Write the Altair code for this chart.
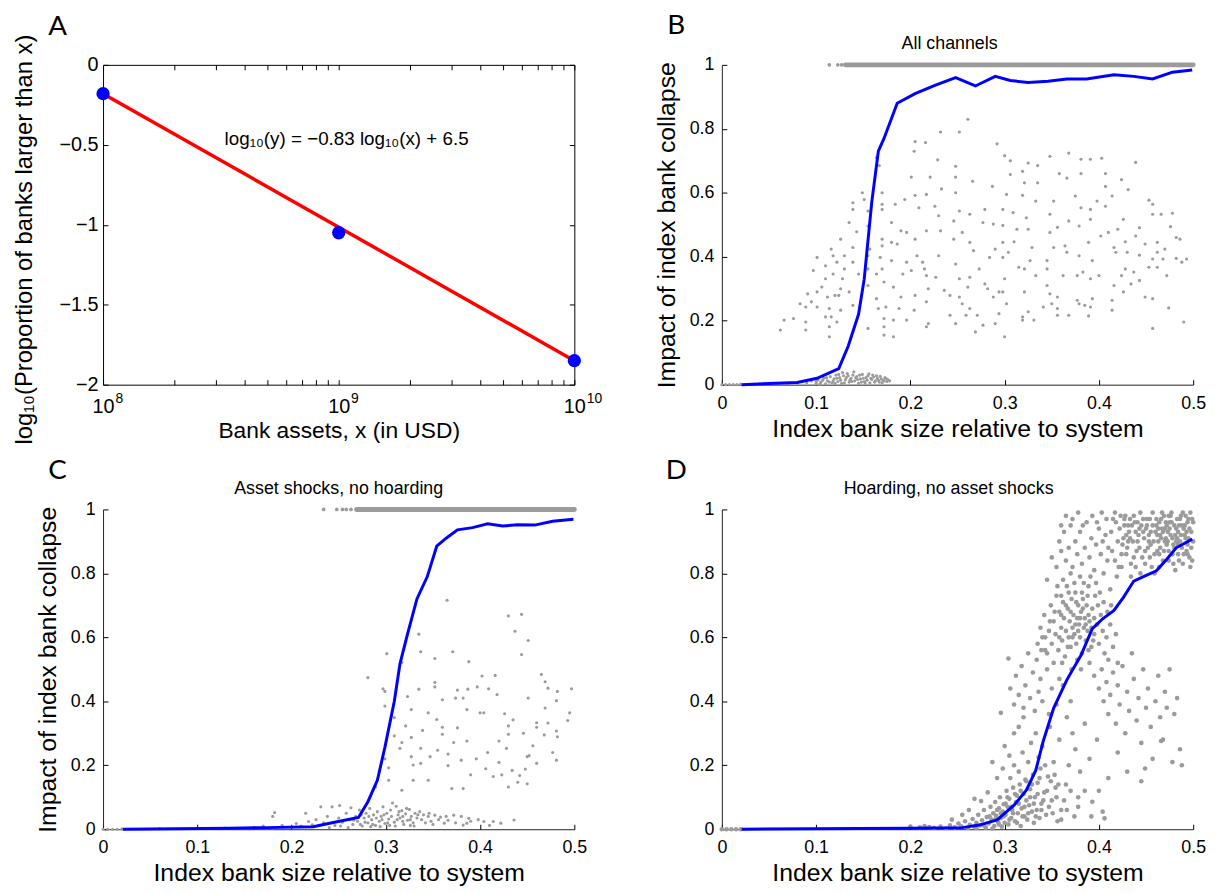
import altair as alt
import pandas as pd

FONT = "Liberation Sans"
LETTER_FONT = "Lato"
GRAY = "#9b9b9b"
BLUE = "#0000ff"
RED = "#ff0000"
W = 476
H = 323

# ---------------- Panel A data ----------------
a_assets = [1e8, 1e9, 1e10]
a_log_prop = [-0.18, -1.05, -1.85]
a_fit_assets = [1e8, 1e10]
a_fit_log_prop = [-0.18, -1.85]
a_major_ticks = [1e8, 1e9, 1e10]
a_tick_base = "10"
a_tick_exp = ["8", "9", "10"]
a_minor_ticks = [1e8, 2e8, 3e8, 4e8, 5e8, 6e8, 7e8, 8e8, 9e8,
                 1e9, 2e9, 3e9, 4e9, 5e9, 6e9, 7e9, 8e9, 9e9, 1e10]
a_y_ticks = [0, -0.5, -1, -1.5, -2]
a_equation = "log₁₀(y) = −0.83 log₁₀(x) + 6.5"

# ---------------- Panels B-D shared ----------------
size_ticks = [0, 0.1, 0.2, 0.3, 0.4, 0.5]
impact_ticks = [0, 0.2, 0.4, 0.6, 0.8, 1]
X_TITLE = "Index bank size relative to system"
Y_TITLE = "Impact of index bank collapse"

# ---------------- Panel B data ----------------
b_line_x = [0.021, 0.08, 0.101, 0.124, 0.134, 0.145, 0.151, 0.159, 0.166, 0.172, 0.186, 0.205, 0.226,
            0.248, 0.269, 0.29, 0.306, 0.325, 0.346, 0.366, 0.387, 0.416, 0.437, 0.457, 0.478, 0.499]
b_line_y = [0.0, 0.007, 0.02, 0.05, 0.12, 0.22, 0.33, 0.57, 0.73, 0.77, 0.88, 0.91, 0.936,
            0.96, 0.934, 0.964, 0.951, 0.945, 0.949, 0.956, 0.956, 0.969, 0.964, 0.956, 0.977, 0.984]
b_band_start = [0.131]
b_band_end = [0.5]
b_band_y = [1.0]
b_top_dots = [(0.114, 1.0), (0.123, 1.0), (0.127, 1.0)]
b_zero_cloud = [
    (0.0, 0.0), (0.004, 0.0), (0.008, 0.0), (0.012, 0.0), (0.016, 0.0), (0.02, 0.002), (0.04, 0.002),
    (0.06, 0.003), (0.07, 0.004), (0.08, 0.004), (0.09, 0.006), (0.095, 0.012), (0.1, 0.004),
    (0.102, 0.015), (0.105, 0.008), (0.108, 0.02), (0.11, 0.003), (0.112, 0.012), (0.115, 0.025),
    (0.117, 0.006), (0.119, 0.018), (0.121, 0.03), (0.123, 0.01), (0.125, 0.022), (0.127, 0.004),
    (0.129, 0.028), (0.131, 0.015), (0.133, 0.035), (0.135, 0.008), (0.137, 0.02), (0.139, 0.03),
    (0.141, 0.012), (0.143, 0.025), (0.145, 0.004), (0.147, 0.018), (0.149, 0.032), (0.151, 0.01),
    (0.153, 0.022), (0.155, 0.028), (0.157, 0.006), (0.159, 0.016), (0.161, 0.024), (0.163, 0.012),
    (0.165, 0.02), (0.167, 0.008), (0.169, 0.018), (0.171, 0.014), (0.173, 0.022), (0.175, 0.01),
    (0.14, 0.04), (0.128, 0.038), (0.136, 0.014), (0.144, 0.016), (0.152, 0.005), (0.16, 0.03),
    (0.1, 0.01), (0.104, 0.002), (0.107, 0.014), (0.111, 0.022), (0.114, 0.008), (0.118, 0.012),
    (0.12, 0.004), (0.122, 0.02), (0.124, 0.032), (0.126, 0.014), (0.13, 0.006), (0.132, 0.022),
    (0.134, 0.028), (0.138, 0.01), (0.142, 0.022), (0.146, 0.03), (0.148, 0.008), (0.15, 0.02),
    (0.154, 0.014), (0.156, 0.034), (0.158, 0.02), (0.162, 0.008), (0.164, 0.028), (0.166, 0.014),
    (0.168, 0.026), (0.17, 0.006), (0.172, 0.012), (0.174, 0.02), (0.176, 0.016), (0.178, 0.012),
]
b_scatter = [
    (0.261, 0.83), (0.232, 0.79), (0.252, 0.79), (0.204, 0.73), (0.205, 0.76), (0.216, 0.757),
    (0.292, 0.753), (0.30, 0.716), (0.368, 0.724), (0.348, 0.714), (0.381, 0.705), (0.391, 0.705),
    (0.403, 0.708), (0.439, 0.695), (0.229, 0.703), (0.306, 0.70), (0.325, 0.693), (0.335, 0.685),
    (0.248, 0.683), (0.164, 0.71), (0.167, 0.685), (0.358, 0.66), (0.381, 0.66), (0.407, 0.66),
    (0.319, 0.667), (0.306, 0.657), (0.201, 0.649), (0.221, 0.649), (0.248, 0.649), (0.366, 0.646),
    (0.424, 0.641), (0.266, 0.636), (0.335, 0.631), (0.321, 0.631), (0.407, 0.62), (0.431, 0.61),
    (0.287, 0.62), (0.233, 0.612), (0.248, 0.60), (0.217, 0.595), (0.205, 0.592), (0.194, 0.579),
    (0.302, 0.595), (0.319, 0.592), (0.375, 0.59), (0.414, 0.59), (0.453, 0.577), (0.457, 0.564),
    (0.149, 0.60), (0.151, 0.579), (0.139, 0.569), (0.17, 0.60), (0.17, 0.564), (0.184, 0.564),
    (0.333, 0.574), (0.352, 0.574), (0.398, 0.574), (0.407, 0.558), (0.209, 0.553), (0.226, 0.558),
    (0.279, 0.548), (0.298, 0.548), (0.381, 0.553), (0.391, 0.548), (0.466, 0.533), (0.478, 0.536),
    (0.139, 0.548), (0.155, 0.543), (0.17, 0.548), (0.252, 0.543), (0.263, 0.533), (0.309, 0.538),
    (0.348, 0.533), (0.23, 0.528), (0.323, 0.522), (0.426, 0.517), (0.457, 0.533), (0.368, 0.512),
    (0.391, 0.517), (0.246, 0.512), (0.277, 0.507), (0.288, 0.502), (0.298, 0.498), (0.135, 0.507),
    (0.143, 0.478), (0.18, 0.507), (0.155, 0.496), (0.356, 0.492), (0.379, 0.496), (0.42, 0.486),
    (0.443, 0.491), (0.476, 0.494), (0.19, 0.481), (0.196, 0.476), (0.217, 0.481), (0.232, 0.481),
    (0.255, 0.476), (0.313, 0.486), (0.325, 0.486), (0.348, 0.476), (0.41, 0.476), (0.402, 0.465),
    (0.439, 0.465), (0.482, 0.46), (0.486, 0.455), (0.126, 0.455), (0.17, 0.455), (0.205, 0.455),
    (0.246, 0.455), (0.263, 0.445), (0.298, 0.445), (0.31, 0.447), (0.389, 0.445), (0.449, 0.44),
    (0.462, 0.445), (0.428, 0.447), (0.17, 0.434), (0.18, 0.445), (0.186, 0.44), (0.352, 0.429),
    (0.364, 0.434), (0.416, 0.429), (0.47, 0.424), (0.116, 0.424), (0.139, 0.429), (0.157, 0.424),
    (0.29, 0.424), (0.329, 0.429), (0.267, 0.419), (0.304, 0.414), (0.366, 0.414), (0.418, 0.414),
    (0.43, 0.414), (0.462, 0.414), (0.443, 0.405), (0.118, 0.403), (0.13, 0.403), (0.155, 0.403),
    (0.168, 0.398), (0.207, 0.403), (0.23, 0.403), (0.284, 0.398), (0.298, 0.398), (0.379, 0.403),
    (0.393, 0.388), (0.482, 0.395), (0.493, 0.393), (0.345, 0.388), (0.327, 0.388), (0.457, 0.393),
    (0.468, 0.393), (0.101, 0.398), (0.122, 0.383), (0.139, 0.383), (0.18, 0.388), (0.196, 0.383),
    (0.213, 0.383), (0.248, 0.377), (0.315, 0.367), (0.321, 0.362), (0.428, 0.362), (0.453, 0.367),
    (0.462, 0.367), (0.488, 0.383), (0.11, 0.372), (0.13, 0.362), (0.155, 0.362), (0.17, 0.362),
    (0.201, 0.357), (0.215, 0.362), (0.273, 0.362), (0.345, 0.362), (0.383, 0.352), (0.437, 0.352),
    (0.097, 0.357), (0.118, 0.346), (0.145, 0.346), (0.164, 0.346), (0.192, 0.346), (0.217, 0.341),
    (0.333, 0.341), (0.362, 0.341), (0.377, 0.341), (0.40, 0.341), (0.424, 0.341), (0.443, 0.326),
    (0.472, 0.341), (0.11, 0.331), (0.128, 0.331), (0.227, 0.336), (0.252, 0.331), (0.263, 0.336),
    (0.30, 0.331), (0.391, 0.331), (0.279, 0.315), (0.155, 0.31), (0.172, 0.321), (0.106, 0.305),
    (0.126, 0.30), (0.182, 0.305), (0.219, 0.30), (0.416, 0.31), (0.434, 0.315), (0.345, 0.31),
    (0.261, 0.305), (0.282, 0.30), (0.101, 0.29), (0.12, 0.279), (0.135, 0.29), (0.236, 0.295),
    (0.294, 0.29), (0.298, 0.29), (0.321, 0.29), (0.348, 0.284), (0.426, 0.29), (0.091, 0.284),
    (0.083, 0.253), (0.095, 0.259), (0.112, 0.274), (0.124, 0.279), (0.242, 0.279), (0.252, 0.274),
    (0.288, 0.274), (0.356, 0.274), (0.393, 0.269), (0.164, 0.269), (0.19, 0.274), (0.205, 0.279),
    (0.101, 0.243), (0.089, 0.243), (0.139, 0.248), (0.174, 0.243), (0.217, 0.259), (0.255, 0.253),
    (0.302, 0.253), (0.377, 0.264), (0.379, 0.253), (0.35, 0.253), (0.414, 0.264), (0.449, 0.274),
    (0.457, 0.269), (0.114, 0.238), (0.126, 0.233), (0.166, 0.238), (0.188, 0.238), (0.263, 0.238),
    (0.356, 0.238), (0.341, 0.243), (0.391, 0.243), (0.414, 0.233), (0.474, 0.24), (0.385, 0.248),
    (0.204, 0.233), (0.325, 0.228), (0.294, 0.222), (0.259, 0.217), (0.242, 0.217), (0.271, 0.217),
    (0.356, 0.217), (0.368, 0.217), (0.389, 0.215), (0.319, 0.212), (0.116, 0.212), (0.11, 0.212),
    (0.172, 0.207), (0.182, 0.202), (0.196, 0.202), (0.066, 0.202), (0.076, 0.207), (0.089, 0.196),
    (0.122, 0.196), (0.319, 0.202), (0.331, 0.202), (0.219, 0.191), (0.248, 0.191), (0.29, 0.191),
    (0.49, 0.196), (0.062, 0.171), (0.089, 0.171), (0.114, 0.181), (0.155, 0.176), (0.172, 0.181),
    (0.217, 0.181), (0.277, 0.186), (0.457, 0.176), (0.269, 0.165), (0.114, 0.15), (0.172, 0.155),
    (0.182, 0.15), (0.30, 0.15),
]

# ---------------- Panel C data ----------------
c_line_x = [0.021, 0.134, 0.174, 0.223, 0.243, 0.271, 0.281, 0.291, 0.299, 0.309, 0.315, 0.323,
            0.333, 0.344, 0.354, 0.364, 0.376, 0.392, 0.408, 0.424, 0.44, 0.458, 0.477, 0.499]
c_line_y = [0.0, 0.003, 0.005, 0.008, 0.02, 0.037, 0.086, 0.153, 0.256, 0.40, 0.517, 0.61,
            0.72, 0.79, 0.885, 0.91, 0.936, 0.943, 0.955, 0.948, 0.952, 0.951, 0.963, 0.969]
c_band_start = [0.269]
c_band_end = [0.5]
c_band_y = [1.0]
c_top_dots = [(0.234, 1.0), (0.248, 1.0), (0.254, 1.0), (0.258, 1.0), (0.263, 1.0)]
c_zero_cloud = [
    (0.0, 0.0), (0.005, 0.0), (0.01, 0.0), (0.015, 0.0), (0.02, 0.001), (0.06, 0.002), (0.1, 0.003),
    (0.13, 0.004), (0.16, 0.006), (0.17, 0.01), (0.18, 0.004), (0.182, 0.052), (0.18, 0.04),
    (0.19, 0.012), (0.2, 0.006), (0.205, 0.018), (0.21, 0.01), (0.215, 0.05), (0.218, 0.024),
    (0.222, 0.014), (0.226, 0.03), (0.231, 0.07), (0.234, 0.02), (0.238, 0.04), (0.243, 0.07),
    (0.246, 0.012), (0.25, 0.035), (0.251, 0.074), (0.254, 0.022), (0.258, 0.05), (0.263, 0.067),
    (0.265, 0.015), (0.268, 0.04), (0.27, 0.025), (0.272, 0.06), (0.275, 0.01), (0.277, 0.035),
    (0.279, 0.05), (0.281, 0.02), (0.283, 0.065), (0.285, 0.03), (0.287, 0.045), (0.289, 0.012),
    (0.291, 0.055), (0.293, 0.025), (0.295, 0.04), (0.297, 0.07), (0.299, 0.018), (0.301, 0.05),
    (0.303, 0.032), (0.305, 0.06), (0.307, 0.082), (0.309, 0.022), (0.311, 0.072), (0.313, 0.045),
    (0.315, 0.035), (0.317, 0.058), (0.319, 0.015), (0.321, 0.048), (0.323, 0.028), (0.325, 0.062),
    (0.327, 0.04), (0.329, 0.02), (0.331, 0.05), (0.333, 0.035), (0.336, 0.055), (0.34, 0.045),
    (0.345, 0.04), (0.352, 0.044), (0.364, 0.04), (0.372, 0.044), (0.38, 0.04), (0.388, 0.034),
    (0.404, 0.024), (0.414, 0.024), (0.422, 0.019), (0.436, 0.029), (0.386, 0.019), (0.362, 0.019),
    (0.382, 0.013), (0.348, 0.025), (0.356, 0.03), (0.296, 0.03), (0.304, 0.012), (0.312, 0.03),
    (0.318, 0.04), (0.326, 0.012), (0.284, 0.008), (0.274, 0.045), (0.262, 0.03),
    (0.24, 0.005), (0.252, 0.01), (0.26, 0.005), (0.266, 0.028), (0.273, 0.015), (0.278, 0.022),
    (0.282, 0.04), (0.286, 0.015), (0.29, 0.035), (0.294, 0.008), (0.298, 0.045), (0.302, 0.02),
    (0.306, 0.04), (0.31, 0.01), (0.314, 0.055), (0.318, 0.025), (0.322, 0.065), (0.326, 0.03),
    (0.33, 0.01), (0.334, 0.045), (0.338, 0.03), (0.342, 0.02), (0.346, 0.05), (0.35, 0.015),
    (0.358, 0.038), (0.366, 0.028), (0.374, 0.02), (0.39, 0.025), (0.398, 0.03), (0.41, 0.012),
]
c_scatter = [
    (0.365, 0.716), (0.43, 0.667), (0.444, 0.672), (0.437, 0.619), (0.451, 0.59), (0.444, 0.546),
    (0.335, 0.61), (0.337, 0.555), (0.301, 0.549), (0.371, 0.555), (0.352, 0.534), (0.388, 0.524),
    (0.317, 0.521), (0.281, 0.474), (0.402, 0.479), (0.416, 0.481), (0.465, 0.484), (0.469, 0.461),
    (0.497, 0.439), (0.297, 0.439), (0.299, 0.431), (0.352, 0.459), (0.352, 0.445), (0.335, 0.438),
    (0.376, 0.435), (0.387, 0.438), (0.397, 0.445), (0.409, 0.439), (0.472, 0.441), (0.482, 0.431),
    (0.323, 0.415), (0.36, 0.405), (0.374, 0.41), (0.382, 0.41), (0.418, 0.421), (0.451, 0.41),
    (0.481, 0.402), (0.299, 0.385), (0.327, 0.374), (0.345, 0.364), (0.386, 0.374), (0.40, 0.364),
    (0.404, 0.364), (0.469, 0.379), (0.495, 0.364), (0.309, 0.349), (0.354, 0.343), (0.426, 0.361),
    (0.435, 0.342), (0.46, 0.333), (0.472, 0.332), (0.493, 0.34), (0.321, 0.323), (0.339, 0.309),
    (0.36, 0.319), (0.376, 0.317), (0.43, 0.323), (0.46, 0.319), (0.481, 0.307), (0.309, 0.292),
    (0.327, 0.287), (0.36, 0.297), (0.43, 0.297), (0.446, 0.30), (0.468, 0.295), (0.482, 0.289),
    (0.317, 0.271), (0.372, 0.271), (0.386, 0.276), (0.42, 0.276), (0.456, 0.261), (0.337, 0.253),
    (0.355, 0.247), (0.428, 0.253), (0.315, 0.253), (0.299, 0.22), (0.327, 0.227), (0.347, 0.227),
    (0.366, 0.235), (0.408, 0.24), (0.45, 0.227), (0.477, 0.24), (0.452, 0.23), (0.481, 0.216),
    (0.303, 0.192), (0.329, 0.201), (0.337, 0.206), (0.366, 0.199), (0.38, 0.216), (0.396, 0.22),
    (0.42, 0.209), (0.46, 0.206), (0.406, 0.189), (0.434, 0.184), (0.442, 0.168), (0.448, 0.188),
    (0.414, 0.165), (0.39, 0.17), (0.303, 0.153), (0.329, 0.153), (0.345, 0.153), (0.44, 0.147),
    (0.423, 0.17), (0.43, 0.132), (0.45, 0.142), (0.317, 0.122), (0.37, 0.127), (0.382, 0.127),
    (0.289, 0.132),
]

# ---------------- Panel D data ----------------
d_line_x = [0.021, 0.197, 0.255, 0.273, 0.292, 0.31, 0.323, 0.333, 0.341, 0.352, 0.366, 0.381,
            0.393, 0.404, 0.416, 0.426, 0.437, 0.449, 0.461, 0.472, 0.482, 0.499]
d_line_y = [0.0, 0.003, 0.005, 0.013, 0.029, 0.075, 0.122, 0.184, 0.276, 0.379, 0.467, 0.544,
            0.627, 0.658, 0.684, 0.725, 0.776, 0.792, 0.808, 0.844, 0.88, 0.907]
d_origin = [(0.0, 0.0), (0.005, 0.0), (0.01, 0.0), (0.015, 0.0), (0.02, 0.0), (0.2, 0.008),
            (0.21, 0.006), (0.215, 0.01), (0.22, 0.007)]
d_low = [
    (0.225, 0.004), (0.232, 0.008), (0.238, 0.003), (0.242, 0.012), (0.247, 0.006), (0.251, 0.018),
    (0.254, 0.009), (0.258, 0.025), (0.261, 0.004), (0.263, 0.014), (0.266, 0.032), (0.268, 0.008),
    (0.27, 0.02), (0.272, 0.045), (0.274, 0.012), (0.276, 0.028), (0.278, 0.06), (0.28, 0.005),
    (0.281, 0.038), (0.283, 0.018), (0.285, 0.07), (0.286, 0.03), (0.288, 0.05), (0.289, 0.01),
    (0.29, 0.085), (0.291, 0.042), (0.293, 0.022), (0.294, 0.065), (0.295, 0.1), (0.296, 0.035),
    (0.297, 0.008), (0.298, 0.055), (0.299, 0.078), (0.3, 0.02), (0.262, 0.06), (0.268, 0.095),
    (0.275, 0.088), (0.255, 0.045), (0.282, 0.115), (0.244, 0.03),
    (0.27, 0.003), (0.278, 0.012), (0.284, 0.04), (0.287, 0.002), (0.29, 0.03), (0.292, 0.06),
    (0.294, 0.015), (0.296, 0.05), (0.299, 0.04), (0.301, 0.08), (0.303, 0.1), (0.305, 0.03),
    (0.307, 0.07), (0.309, 0.05), (0.311, 0.11), (0.313, 0.02), (0.315, 0.08), (0.317, 0.12),
    (0.319, 0.04), (0.321, 0.07), (0.323, 0.15), (0.325, 0.05), (0.327, 0.1), (0.329, 0.14),
    (0.331, 0.08), (0.333, 0.04), (0.335, 0.11), (0.337, 0.16), (0.339, 0.06), (0.341, 0.09),
    (0.343, 0.2), (0.345, 0.12), (0.347, 0.07), (0.349, 0.15), (0.351, 0.05), (0.353, 0.17),
    (0.355, 0.1), (0.357, 0.14), (0.36, 0.03), (0.363, 0.09), (0.366, 0.06), (0.37, 0.12),
    (0.374, 0.04), (0.378, 0.07),
]
d_rise = [
    (0.301, 0.045), (0.302, 0.12), (0.303, 0.07), (0.304, 0.015), (0.305, 0.095), (0.306, 0.16),
    (0.307, 0.035), (0.308, 0.06), (0.309, 0.13), (0.31, 0.2), (0.311, 0.025), (0.312, 0.085),
    (0.313, 0.105), (0.314, 0.05), (0.315, 0.18), (0.316, 0.14), (0.317, 0.01), (0.318, 0.065),
    (0.319, 0.24), (0.32, 0.11), (0.321, 0.04), (0.322, 0.155), (0.323, 0.09), (0.324, 0.03),
    (0.325, 0.21), (0.326, 0.075), (0.327, 0.125), (0.328, 0.27), (0.329, 0.055), (0.33, 0.17),
    (0.331, 0.02), (0.332, 0.1), (0.333, 0.3), (0.334, 0.06), (0.335, 0.145), (0.336, 0.225),
    (0.337, 0.035), (0.338, 0.19), (0.339, 0.08), (0.34, 0.26), (0.342, 0.115), (0.344, 0.045),
    (0.346, 0.165), (0.348, 0.32), (0.35, 0.09), (0.352, 0.21), (0.354, 0.13), (0.356, 0.025),
    (0.358, 0.28), (0.36, 0.06), (0.305, 0.23), (0.31, 0.3), (0.315, 0.32), (0.32, 0.35),
    (0.298, 0.19), (0.292, 0.16), (0.287, 0.21), (0.3, 0.26),
]
d_mid_left = [
    (0.296, 0.364), (0.304, 0.534), (0.306, 0.44), (0.31, 0.39), (0.312, 0.48), (0.315, 0.42),
    (0.318, 0.51), (0.32, 0.38), (0.322, 0.45), (0.325, 0.55), (0.327, 0.41), (0.33, 0.49),
    (0.332, 0.37), (0.334, 0.53), (0.336, 0.43), (0.338, 0.47), (0.34, 0.4), (0.343, 0.56),
    (0.345, 0.5), (0.347, 0.36), (0.35, 0.44), (0.352, 0.52), (0.355, 0.39), (0.358, 0.47),
]
d_cluster = [
    (0.335, 0.58), (0.338, 0.63), (0.34, 0.6), (0.342, 0.67), (0.345, 0.55), (0.347, 0.62),
    (0.349, 0.7), (0.35, 0.58), (0.352, 0.65), (0.354, 0.61), (0.355, 0.73), (0.357, 0.56),
    (0.358, 0.68), (0.36, 0.63), (0.361, 0.59), (0.362, 0.71), (0.363, 0.66), (0.364, 0.54),
    (0.365, 0.62), (0.366, 0.76), (0.367, 0.69), (0.368, 0.6), (0.369, 0.65), (0.37, 0.57),
    (0.371, 0.72), (0.372, 0.63), (0.373, 0.67), (0.374, 0.61), (0.375, 0.74), (0.376, 0.58),
    (0.377, 0.66), (0.378, 0.7), (0.379, 0.64), (0.38, 0.6), (0.381, 0.68), (0.382, 0.55),
    (0.383, 0.72), (0.384, 0.63), (0.385, 0.66), (0.386, 0.59), (0.387, 0.7), (0.388, 0.62),
    (0.389, 0.76), (0.39, 0.65), (0.392, 0.57), (0.393, 0.69), (0.395, 0.61), (0.396, 0.73),
    (0.398, 0.64), (0.4, 0.58), (0.402, 0.67), (0.404, 0.62), (0.406, 0.55), (0.408, 0.6),
    (0.41, 0.53), (0.412, 0.64), (0.415, 0.57), (0.418, 0.61), (0.42, 0.52), (0.362, 0.78),
    (0.37, 0.8), (0.38, 0.79), (0.356, 0.76),
    (0.36, 0.67), (0.365, 0.7), (0.37, 0.68), (0.375, 0.64), (0.378, 0.62), (0.38, 0.66),
    (0.383, 0.69), (0.386, 0.64), (0.389, 0.67), (0.392, 0.63), (0.395, 0.66), (0.372, 0.6),
    (0.376, 0.71), (0.382, 0.74), (0.388, 0.73), (0.368, 0.74), (0.374, 0.77), (0.384, 0.77),
    (0.391, 0.79), (0.397, 0.77), (0.401, 0.74), (0.405, 0.71), (0.409, 0.68), (0.413, 0.7),
    (0.399, 0.7), (0.394, 0.59), (0.389, 0.56), (0.377, 0.53), (0.367, 0.57), (0.358, 0.6),
    (0.353, 0.68), (0.348, 0.65), (0.343, 0.6), (0.339, 0.56), (0.361, 0.52), (0.371, 0.5),
    (0.381, 0.5), (0.36, 0.73),
]
d_right_low = [
    (0.39, 0.52), (0.395, 0.48), (0.4, 0.44), (0.403, 0.5), (0.405, 0.4), (0.408, 0.46),
    (0.41, 0.36), (0.412, 0.42), (0.415, 0.49), (0.418, 0.33), (0.42, 0.45), (0.422, 0.39),
    (0.425, 0.51), (0.428, 0.3), (0.43, 0.43), (0.432, 0.37), (0.435, 0.55), (0.437, 0.47),
    (0.44, 0.34), (0.442, 0.41), (0.445, 0.27), (0.447, 0.5), (0.45, 0.38), (0.452, 0.44),
    (0.455, 0.32), (0.457, 0.22), (0.46, 0.4), (0.463, 0.48), (0.465, 0.35), (0.468, 0.28),
    (0.47, 0.43), (0.472, 0.38), (0.475, 0.5), (0.478, 0.21), (0.48, 0.36), (0.483, 0.41),
    (0.486, 0.25), (0.488, 0.2), (0.449, 0.19), (0.445, 0.15), (0.466, 0.276), (0.404, 0.055),
    (0.406, 0.034), (0.393, 0.086), (0.385, 0.12), (0.38, 0.18), (0.375, 0.25), (0.372, 0.3),
    (0.368, 0.2), (0.365, 0.14), (0.378, 0.1), (0.39, 0.22), (0.398, 0.28), (0.385, 0.33),
    (0.37, 0.4), (0.362, 0.45), (0.366, 0.35), (0.41, 0.16), (0.42, 0.24), (0.43, 0.18),
    (0.392, 0.04), (0.4, 0.12),
]
d_diag = [
    (0.345, 0.78), (0.35, 0.85), (0.355, 0.82), (0.358, 0.9), (0.36, 0.87), (0.363, 0.93),
    (0.365, 0.84), (0.368, 0.88), (0.37, 0.95), (0.372, 0.82), (0.375, 0.9), (0.377, 0.86),
    (0.38, 0.93), (0.382, 0.83), (0.385, 0.88), (0.387, 0.96), (0.39, 0.85), (0.392, 0.91),
    (0.395, 0.81), (0.397, 0.89), (0.4, 0.94), (0.402, 0.86), (0.405, 0.8), (0.407, 0.92),
    (0.41, 0.88), (0.412, 0.75), (0.415, 0.97), (0.417, 0.84), (0.42, 0.9), (0.378, 0.99),
    (0.36, 0.95), (0.365, 0.98), (0.372, 0.97), (0.383, 0.95), (0.393, 0.98), (0.398, 0.96),
    (0.403, 0.99), (0.408, 0.97), (0.413, 0.93), (0.418, 0.96), (0.404, 0.9), (0.409, 0.84),
    (0.414, 0.87), (0.419, 0.79),
]
d_top = [
    (0.422, 0.94), (0.424, 0.86), (0.426, 0.91), (0.428, 0.98), (0.43, 0.88), (0.432, 0.93),
    (0.434, 0.83), (0.436, 0.9), (0.438, 0.96), (0.44, 0.87), (0.442, 0.92), (0.444, 0.99),
    (0.446, 0.85), (0.448, 0.91), (0.45, 0.94), (0.452, 0.88), (0.454, 0.97), (0.456, 0.82),
    (0.458, 0.9), (0.46, 0.93), (0.462, 0.87), (0.464, 0.96), (0.466, 0.91), (0.468, 0.84),
    (0.47, 0.94), (0.472, 0.89), (0.474, 0.98), (0.476, 0.92), (0.478, 0.86), (0.48, 0.95),
    (0.482, 0.9), (0.484, 0.93), (0.486, 0.97), (0.488, 0.88), (0.49, 0.94), (0.492, 0.91),
    (0.494, 0.96), (0.496, 0.85), (0.498, 0.93), (0.5, 0.9), (0.5, 0.96), (0.497, 0.82),
    (0.493, 0.87), (0.489, 0.99), (0.485, 0.84), (0.481, 0.81), (0.477, 0.96), (0.473, 0.93),
    (0.469, 0.98), (0.465, 0.88), (0.461, 0.97), (0.457, 0.95), (0.453, 0.92), (0.449, 0.87),
    (0.445, 0.95), (0.441, 0.9), (0.437, 0.85), (0.433, 0.97), (0.429, 0.92), (0.425, 0.89),
    (0.421, 0.82), (0.495, 0.91), (0.491, 0.95), (0.487, 0.92), (0.483, 0.97), (0.479, 0.89),
    (0.475, 0.94), (0.471, 0.91), (0.467, 0.94), (0.463, 0.9), (0.459, 0.86), (0.455, 0.89),
    (0.451, 0.97), (0.447, 0.93), (0.443, 0.88), (0.439, 0.93), (0.435, 0.95), (0.431, 0.9),
    (0.427, 0.95), (0.423, 0.98), (0.499, 0.97), (0.498, 0.88), (0.496, 0.94), (0.494, 0.89),
    (0.492, 0.98), (0.49, 0.86), (0.488, 0.95), (0.486, 0.9), (0.484, 0.86), (0.482, 0.94),
    (0.48, 0.88), (0.478, 0.91), (0.476, 0.98), (0.474, 0.87), (0.472, 0.95), (0.47, 0.9),
    (0.468, 0.93), (0.466, 0.97), (0.464, 0.86), (0.462, 0.92),
    (0.424, 0.82), (0.429, 0.86), (0.434, 0.79), (0.439, 0.82), (0.444, 0.8), (0.449, 0.83),
    (0.454, 0.85), (0.459, 0.8), (0.464, 0.82), (0.469, 0.87), (0.474, 0.84), (0.479, 0.83),
    (0.484, 0.89), (0.489, 0.83), (0.494, 0.86), (0.499, 0.84), (0.497, 0.99), (0.487, 0.98),
    (0.477, 0.99), (0.467, 0.99), (0.457, 0.99), (0.447, 0.97), (0.437, 0.98), (0.427, 0.97),
    (0.417, 0.99), (0.431, 0.95), (0.441, 0.96), (0.451, 0.95), (0.461, 0.95), (0.471, 0.96),
    (0.481, 0.92), (0.491, 0.92), (0.433, 0.91), (0.443, 0.94), (0.453, 0.9), (0.463, 0.94),
    (0.473, 0.9), (0.483, 0.91), (0.493, 0.93), (0.455, 0.93), (0.465, 0.92), (0.475, 0.96),
    (0.485, 0.95), (0.495, 0.97),
]


# ---------------- helpers ----------------
def pts_frame(*groups):
    xs, ys = [], []
    for g in groups:
        for x, y in g:
            xs.append(x)
            ys.append(y)
    return pd.DataFrame({"size_rel": xs, "impact": ys})


def text_layer(txt, x, y, font, size, align="center", baseline="alphabetic"):
    return alt.Chart(pd.DataFrame({"label": [txt]})).mark_text(
        font=font, fontSize=size, align=align, baseline=baseline, color="black"
    ).encode(text="label:N", x=alt.value(x), y=alt.value(y))


def tick_axis(orient, offset, values, domain=False):
    return alt.Axis(orient=orient, offset=offset, values=values, labels=False, ticks=True,
                    tickSize=5, tickColor="black", tickWidth=1, domain=domain,
                    domainColor="black", domainWidth=1, grid=False, title=None)


# ---------------- Panel A ----------------
a_xs = alt.Scale(type="log", domain=[1e8, 1e10], nice=False)
a_ys = alt.Scale(domain=[-2, 0], nice=False, zero=False)
a_pts = pd.DataFrame({"assets": a_assets, "logprop": a_log_prop})
a_fit = pd.DataFrame({"assets": a_fit_assets, "logprop": a_fit_log_prop})
a_exp_expr = (f"datum.value < 3e8 ? '{a_tick_exp[0]}' : "
              f"datum.value < 3e9 ? '{a_tick_exp[1]}' : '{a_tick_exp[2]}'")

a_line = alt.Chart(a_fit).mark_line(color=RED, strokeWidth=3.5).encode(
    x=alt.X("assets:Q", scale=a_xs, axis=alt.Axis(
        values=a_major_ticks, labelExpr=f"'{a_tick_base}'", ticks=False, tickSize=0, domain=True,
        domainColor="black", labelFont=FONT, labelFontSize=20, labelColor="black",
        labelPadding=12, labelFlush=False, labelOverlap=False, grid=False,
        title="Bank assets, x (in USD)", titleFont=FONT, titleFontSize=23,
        titleFontWeight="normal", titleColor="black", titleY=53, titleBaseline="alphabetic")),
    y=alt.Y("logprop:Q", scale=a_ys, axis=alt.Axis(
        values=a_y_ticks, format=".1~f", ticks=False, tickSize=0, domain=True,
        domainColor="black", labelFont=FONT, labelFontSize=20, labelColor="black",
        labelPadding=5, labelOverlap=False, grid=False,
        title="log₁₀(Proportion of banks larger than x)", titleFont=FONT, titleFontSize=24,
        titleFontWeight="normal", titleColor="black", titleX=-72, titleY=176,
        titleBaseline="alphabetic")),
)
a_exponents = alt.Chart(a_pts).mark_point(opacity=0).encode(
    x=alt.X("assets:Q", scale=a_xs, axis=alt.Axis(
        orient="bottom", values=a_major_ticks, labelExpr=a_exp_expr, ticks=False, tickSize=0,
        tickOffset=12, domain=False, labelFont=FONT, labelFontSize=14, labelColor="black",
        labelAlign="left", labelPadding=7, labelFlush=False, labelOverlap=False, grid=False,
        title=None)),
    y=alt.Y("logprop:Q", scale=a_ys, axis=None),
)
a_dots = alt.Chart(a_pts).mark_circle(color=BLUE, size=180, opacity=1).encode(
    x=alt.X("assets:Q", scale=a_xs, axis=None),
    y=alt.Y("logprop:Q", scale=a_ys, axis=None),
)
a_ticks_in_low = alt.Chart(a_pts).mark_point(opacity=0).encode(
    x=alt.X("assets:Q", scale=a_xs, axis=tick_axis("top", -H, a_minor_ticks)),
    y=alt.Y("logprop:Q", scale=a_ys, axis=tick_axis("right", -W, a_y_ticks)),
)
a_ticks_in_high = alt.Chart(a_pts).mark_point(opacity=0).encode(
    x=alt.X("assets:Q", scale=a_xs, axis=tick_axis("bottom", -H, a_minor_ticks, domain=True)),
    y=alt.Y("logprop:Q", scale=a_ys, axis=tick_axis("left", -W, a_y_ticks, domain=True)),
)
panel_a = alt.layer(
    a_line, a_exponents, a_dots, a_ticks_in_low, a_ticks_in_high,
    text_layer(a_equation, 246, 75, FONT, 19, baseline="middle"),
    text_layer("A", -46, -30, LETTER_FONT, 28),
).resolve_axis(x="independent", y="independent").properties(width=W, height=H)


# ---------------- Panels B-D ----------------
def impact_panel(letter, subtitle, sub_x, line_x, line_y, scatter_df, band, top_dots,
                 y_title, point_size):
    xs = alt.Scale(domain=[0, 0.5], nice=False, zero=False)
    ys = alt.Scale(domain=[0, 1], nice=False, zero=False)
    line_df = pd.DataFrame({"size_rel": line_x, "impact": line_y})
    layers = []
    if band is not None:
        bstart, bend, by = band
        band_df = pd.DataFrame({"size_rel": bstart, "size_rel_end": bend, "impact": by})
        layers.append(alt.Chart(band_df).mark_rule(color=GRAY, strokeWidth=5, strokeCap="round").encode(
            x=alt.X("size_rel:Q", scale=xs, axis=None), x2="size_rel_end:Q",
            y=alt.Y("impact:Q", scale=ys, axis=None)))
    if top_dots:
        layers.append(alt.Chart(pts_frame(top_dots)).mark_circle(color=GRAY, size=14, opacity=1).encode(
            x=alt.X("size_rel:Q", scale=xs, axis=None), y=alt.Y("impact:Q", scale=ys, axis=None)))
    layers.append(alt.Chart(scatter_df).mark_circle(color=GRAY, size=point_size, opacity=1).encode(
        x=alt.X("size_rel:Q", scale=xs, axis=None), y=alt.Y("impact:Q", scale=ys, axis=None)))
    y_axis_kw = dict(values=impact_ticks, format=".1~f", ticks=False, tickSize=0, domain=True,
                     domainColor="#222222", labelFont=FONT, labelFontSize=18, labelColor="black",
                     labelPadding=8, labelOverlap=False, grid=False)
    if y_title:
        y_axis_kw.update(title=y_title, titleFont=FONT, titleFontSize=25, titleFontWeight="normal",
                         titleColor="black", titleX=-48, titleBaseline="alphabetic")
    else:
        y_axis_kw.update(title=None)
    layers.append(alt.Chart(line_df).mark_line(color=BLUE, strokeWidth=3).encode(
        x=alt.X("size_rel:Q", scale=xs, axis=alt.Axis(
            values=size_ticks, format=".1~f", ticks=False, tickSize=0, domain=True,
            domainColor="#222222", labelFont=FONT, labelFontSize=18, labelColor="black",
            labelPadding=10, labelFlush=False, labelOverlap=False, grid=False,
            title=X_TITLE, titleFont=FONT, titleFontSize=25, titleFontWeight="normal",
            titleColor="black", titleY=52, titleBaseline="alphabetic")),
        y=alt.Y("impact:Q", scale=ys, axis=alt.Axis(**y_axis_kw)),
    ))
    layers.append(alt.Chart(line_df).mark_point(opacity=0).encode(
        x=alt.X("size_rel:Q", scale=xs, axis=tick_axis("top", -H, size_ticks)),
        y=alt.Y("impact:Q", scale=ys, axis=tick_axis("right", -W, impact_ticks)),
    ))
    layers.append(text_layer(subtitle, sub_x, -16, FONT, 18))
    layers.append(text_layer(letter, -46, -31, LETTER_FONT, 28))
    return alt.layer(*layers).resolve_axis(x="independent", y="independent").properties(
        width=W, height=H)


panel_b = impact_panel("B", "All channels", 230, b_line_x, b_line_y,
                       pts_frame(b_zero_cloud, b_scatter),
                       (b_band_start, b_band_end, b_band_y), b_top_dots, Y_TITLE, 10)
panel_c = impact_panel("C", "Asset shocks, no hoarding", 238, c_line_x, c_line_y,
                       pts_frame(c_zero_cloud, c_scatter),
                       (c_band_start, c_band_end, c_band_y), c_top_dots, Y_TITLE, 10)
panel_d = impact_panel("D", "Hoarding, no asset shocks", 229, d_line_x, d_line_y,
                       pts_frame(d_origin, d_low, d_rise, d_mid_left, d_cluster, d_right_low,
                                 d_diag, d_top),
                       None, None, None, 22)

chart = alt.concat(
    panel_a, panel_b, panel_c, panel_d,
    columns=2,
    spacing=alt.RowColnumber(row=126, column=149),
    bounds="flush",
).configure_view(stroke=None).properties(
    padding={"left": 4, "top": 0, "right": 4, "bottom": 4},
    background="white",
)

chart.save("out.html", embed_options={"renderer": "svg", "actions": False})
